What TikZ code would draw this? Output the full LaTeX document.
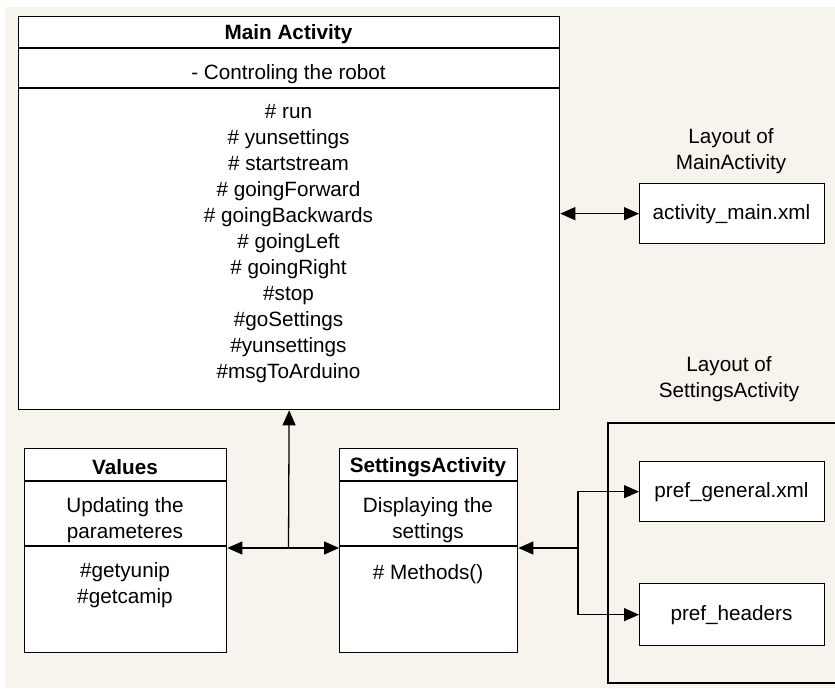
\documentclass[tikz,border=0pt]{standalone}
\usepackage{fontspec}
\setmainfont{Liberation Sans}
\usetikzlibrary{arrows.meta}
\definecolor{bgbeige}{RGB}{247,244,238}
\tikzset{
  box/.style={draw=black, line width=1.3pt, fill=white, anchor=north west, inner sep=0pt},
  divider/.style={draw=black, line width=1.3pt},
  txt/.style={font=\fontsize{20.7}{26}\selectfont, align=center, inner sep=0pt, text=black},
  ttl/.style={txt, font=\fontsize{20.7}{26}\selectfont\bfseries},
  conn/.style={draw=black, line width=1.3pt},
  tip/.style={-{Triangle[length=15pt,width=13pt]}},
  tips/.style={{Triangle[length=15pt,width=13pt]}-{Triangle[length=15pt,width=13pt]}}
}
\begin{document}
\begin{tikzpicture}[x=1pt,y=-1pt]
\useasboundingbox (0,0) rectangle (835,688);
\fill[white] (0,0) rectangle (835,688);
\fill[bgbeige] (5,7) rectangle (835,688);

% outer settings-layout frame
\draw[line width=1.1pt] (608,423) rectangle (837,683);

% Main Activity
\node[box, minimum width=541pt, minimum height=393pt] (main) at (18,16) {};
\draw[divider] (18,48) -- (559,48);
\draw[divider] (18,88) -- (559,88);
\node[ttl] (mainT) at (288.5,34) {Main Activity};
\node[txt] (mainA) at (288.5,74) {- Controling the robot};
\node[txt, anchor=north] (mainM) at (288.5,104.5) {\# run\\\# yunsettings\\\# startstream\\\# goingForward\\\# goingBackwards\\\# goingLeft\\\# goingRight\\\#stop\\\#goSettings\\\#yunsettings\\\#msgToArduino};

% Values
\node[box, minimum width=202pt, minimum height=204pt] (values) at (24,448) {};
\draw[divider] (24,481) -- (226,481);
\draw[divider] (24,546) -- (226,546);
\node[ttl] (valT) at (125,467) {Values};
\node[txt] (valA) at (125,520) {Updating the\\parameteres};
\node[txt] (valM) at (125,585) {\#getyunip\\\#getcamip};

% SettingsActivity
\node[box, minimum width=178pt, minimum height=204pt] (sett) at (339,448) {};
\draw[divider] (339,481) -- (517,481);
\draw[divider] (339,546) -- (517,546);
\node[ttl] (setT) at (428,467) {SettingsActivity};
\node[txt] (setA) at (428,520) {Displaying the\\settings};
\node[txt] (setM) at (428,574.5) {\# Methods()};

% layout files
\node[box, minimum width=185pt, minimum height=60pt] (act) at (639,183) {};
\node[txt] (actT) at (731.5,214) {activity\_main.xml};
\node[box, minimum width=185pt, minimum height=60pt] (pg) at (639,461) {};
\node[txt] (pgT) at (731.5,492) {pref\_general.xml};
\node[box, minimum width=185pt, minimum height=62pt] (ph) at (639,583) {};
\node[txt] (phT) at (731.5,615) {pref\_headers};

% labels
\node[txt] (lay1) at (731,151) {Layout of\\MainActivity};
\node[txt] (lay2) at (729,379) {Layout of\\SettingsActivity};

% connectors
\draw[conn, tips] (act.west -| main.east) -- (act.west);
\coordinate (J1) at (288.5,548);
\draw[conn, tip] (J1) -- (main.south);
\draw[conn, tip] (J1) -- (J1 -| values.east);
\draw[conn, tip] (J1) -- (J1 -| sett.west);
\coordinate (J2) at (578,548);
\draw[conn, tip] (J2) -- (J2 -| sett.east);
\draw[conn, tip] (J2) |- (pg.west);
\draw[conn, tip] (J2) |- (ph.west);
\end{tikzpicture}
\end{document}
